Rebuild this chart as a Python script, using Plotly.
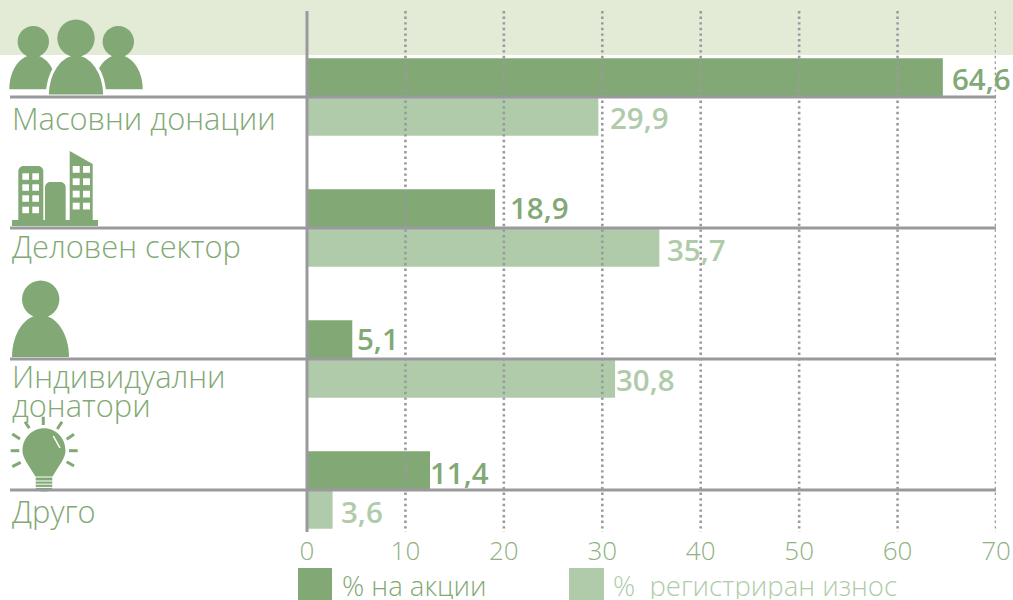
import re
import plotly.graph_objects as go

# ---- data ----
category_lines = [["Масовни донации"], ["Деловен сектор"], ["Индивидуални", "донатори"], ["Друго"]]
actions_pct = [64.6, 19.1, 4.6, 12.5]          # drawn bar lengths
registered_pct = [29.6, 35.8, 31.3, 2.6]       # drawn bar lengths
actions_labels = ["64,6", "18,9", "5,1", "11,4"]
registered_labels = ["29,9", "35,7", "30,8", "3,6"]
tick_values = [0, 10, 20, 30, 40, 50, 60, 70]
tick_labels = ["0", "10", "20", "30", "40", "50", "60", "70"]
series_names = ["% на акции", "%  регистриран износ"]

# ---- style ----
DARK = "#82a975"
LIGHT = "#b0cbaa"
TICK = "#8fb282"
BAND = "#e3ead6"
RULE = "#9a9a9e"
FONT = "Open Sans"
W, H = 1013, 600
L, R, T, B = 307, 996, 0, 533
ROW_TOP, ROW_STEP = 97, 131


def px(x):
    return (x - L) / (R - L)


def py(y):
    return 1 - (y - T) / (B - T)


def path(d):
    """Convert an absolute px path for an icon to paper coordinates."""
    out, is_x = [], True
    for tok in re.findall(r"[A-Za-z]|-?\d+\.?\d*", d):
        if tok.isalpha():
            out.append(tok)
            is_x = True
        else:
            v = float(tok)
            out.append(f"{px(v) if is_x else py(v):.5f}")
            is_x = not is_x
    s = ""
    for t in out:
        s += t if t.isalpha() else " " + t + " "
    return s


def circle(cx, cy, r):
    k = 0.5523 * r
    return (f"M{cx-r} {cy} C{cx-r} {cy-k} {cx-k} {cy-r} {cx} {cy-r} "
            f"C{cx+k} {cy-r} {cx+r} {cy-k} {cx+r} {cy} "
            f"C{cx+r} {cy+k} {cx+k} {cy+r} {cx} {cy+r} "
            f"C{cx-k} {cy+r} {cx-r} {cy+k} {cx-r} {cy} Z")


def dome(x0, x1, top, bottom):
    cx = (x0 + x1) / 2
    rx = (x1 - x0) / 2
    ry = bottom - top
    kx, ky = 0.5523 * rx, 0.5523 * ry
    return (f"M{x0} {bottom} C{x0} {bottom-ky} {cx-kx} {top} {cx} {top} "
            f"C{cx+kx} {top} {x1} {bottom-ky} {x1} {bottom} Z")


def rtop(x0, x1, top, bottom, r):
    return (f"M{x0} {bottom} L{x0} {top+r} C{x0} {top+r/2} {x0+r/2} {top} {x0+r} {top} "
            f"L{x1-r} {top} C{x1-r/2} {top} {x1} {top+r/2} {x1} {top+r} L{x1} {bottom} Z")


def rect(x0, y0, x1, y1):
    return f"M{x0} {y0} L{x1} {y0} L{x1} {y1} L{x0} {y1} Z"


shapes = []


def fill(d, color=DARK, line=None, lw=0):
    shapes.append(dict(type="path", xref="paper", yref="paper", path=path(d),
                       fillcolor=color, line=dict(color=line or color, width=lw), layer="above"))


def stroke(x0, y0, x1, y1, color=DARK, w=3, dash=None, xref="paper", layer="above"):
    shapes.append(dict(type="line", xref=xref, yref="paper",
                       x0=x0 if xref == "x" else px(x0), x1=x1 if xref == "x" else px(x1),
                       y0=py(y0), y1=py(y1), layer=layer,
                       line=dict(color=color, width=w, dash=dash or "solid")))


# top band
shapes.append(dict(type="rect", xref="paper", yref="paper", x0=px(0), x1=px(W), y0=py(0), y1=py(55),
                   fillcolor=BAND, line=dict(width=0), layer="below"))

# dotted grid
for v in tick_values[1:]:
    stroke(v, 11, v, 532, color=RULE, w=2.6, dash="2.4px,3.2px", xref="x")

# people icon
fill(dome(9.3, 57, 55, 89.3))
fill(dome(94, 142.7, 55, 89.3))
fill(dome(47.3, 104.7, 54, 96), line="#ffffff", lw=3)
fill(circle(33.3, 41.7, 15.7))
fill(circle(118.3, 41.7, 15.7))
fill(circle(76, 38.3, 18.7))

# building icon
fill(rect(12, 220, 98, 226))
fill(rtop(18.3, 43.3, 166, 221, 5))
fill(rtop(45, 65.7, 182, 221, 5))
fill("M69.7 221 L69.7 151 L92.7 164 L92.7 221 Z")
for wx in (22.3, 32.3):
    for wy in (173.3, 184.3, 195.3, 206.7):
        fill(rect(wx, wy, wx + 6.7, wy + 6.5), color="#ffffff")
for wx in (72.7, 83):
    for wy in (166, 178.3, 190.7, 202.7):
        fill(rect(wx, wy, wx + 7, wy + 6.8), color="#ffffff")

# person icon
fill(dome(12, 69, 315, 357))
fill(circle(40.7, 299.3, 18.7))

# bulb icon
fill("M22.5 450.7 C22.5 438 32 428.3 44 428.3 C56 428.3 65.5 438 65.5 450.7 "
     "C65.5 458 60 464 52.5 476.5 L35.5 476.5 C28 464 22.5 458 22.5 450.7 Z")
fill(rect(35.7, 477.5, 52.3, 489))
fill("M38 489 L50 489 L47 491.5 L41 491.5 Z")
for yy in (481, 484.2, 487.4):
    stroke(35, yy, 53, yy, color="#ffffff", w=1)
stroke(53.3, 436, 60, 448, color="#ffffff", w=1.5)
rays = [(43.3, 416.7, 43.3, 425), (25, 421.7, 29.3, 428.3), (62, 421.7, 57.3, 429),
        (12.3, 434, 20, 439), (74, 434.3, 66.7, 439.3), (10.7, 450.7, 19.3, 450.7),
        (69, 450.7, 77.7, 450.7), (12.3, 466.7, 20.7, 462.3), (74, 466, 66.7, 461.7)]
for r in rays:
    stroke(*r, w=3)

# row rules and vertical axis
for i in range(len(category_lines)):
    rule_y = ROW_TOP + ROW_STEP * i
    stroke(10, rule_y, 996, rule_y, color=RULE, w=3)
stroke(307, 11, 307, 532, color=RULE, w=3)

# legend swatches
fill(rect(298, 568, 332, 600))
fill(rect(569, 568, 604, 600), color=LIGHT)

annotations = []


def note(text, x, y, size, color, weight=400, xref="paper", shift=0, height=None):
    annotations.append(dict(text=text, x=x if xref == "x" else px(x), y=py(y), xref=xref, yref="paper",
                            xanchor="left", yanchor="middle", showarrow=False, xshift=shift,
                            borderpad=0, height=height,
                            font=dict(family=FONT, size=size, color=color, weight=weight)))


# category labels
cat_y = [[118.5], [245.5], [375.5, 404.5], [510.5]]
for lines, ys in zip(category_lines, cat_y):
    for line, y in zip(lines, ys):
        note(line, 10.5, y, 30.8, DARK, 300)

# value labels
act_offset, act_y = [8, 14, 4, -1], [78.5, 207.5, 338.5, 472.5]
reg_offset, reg_y = [11, 7, 0, 7], [117.5, 249.5, 379.5, 511.5]
for v, t, o, y in zip(actions_pct, actions_labels, act_offset, act_y):
    note(t, v, y, 29.5, DARK, 600, xref="x", shift=o)
for v, t, o, y in zip(registered_pct, registered_labels, reg_offset, reg_y):
    note(t, v, y, 29.5, LIGHT, 600, xref="x", shift=o)

# legend text
note(series_names[0], 340.5, 585, 27.5, DARK, 300, height=28)
note(series_names[1], 611.5, 585, 27.5, LIGHT, 300, height=28)

rows = list(range(len(category_lines)))
fig = go.Figure()
fig.add_bar(y=rows, x=actions_pct, orientation="h", marker=dict(color=DARK, line_width=0), name=series_names[0])
fig.add_bar(y=rows, x=registered_pct, orientation="h", marker=dict(color=LIGHT, line_width=0), name=series_names[1])

fig.update_layout(
    width=W, height=H, autosize=False, showlegend=False,
    margin=dict(l=L, r=W - R, t=T, b=H - B, pad=0),
    paper_bgcolor="#ffffff", plot_bgcolor="rgba(0,0,0,0)",
    barmode="group", bargap=1 - 78.5 / ROW_STEP, bargroupgap=0.03,
    shapes=shapes, annotations=annotations,
    xaxis=dict(range=[0, 70], tickmode="array", tickvals=tick_values, ticktext=tick_labels,
               showgrid=False, zeroline=False, showline=False, ticks="",
               tickfont=dict(family=FONT, size=26, color=TICK, weight=300)),
    yaxis=dict(range=[(B - ROW_TOP) / ROW_STEP, -ROW_TOP / ROW_STEP], showgrid=False, zeroline=False,
               showticklabels=False, ticks="", showline=False),
)
fig.write_html("out.html", config={"displayModeBar": False},
               post_script="document.body.style.margin='0';document.documentElement.style.overflow='hidden';")
